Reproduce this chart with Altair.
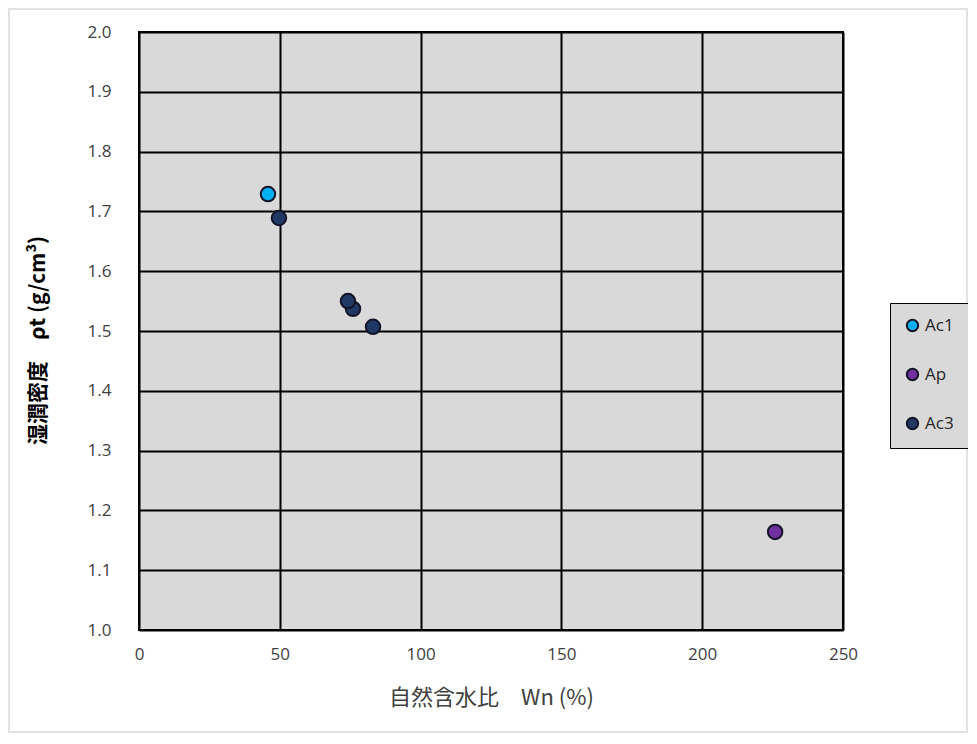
import altair as alt
import pandas as pd

series = ["Ac1", "Ac3", "Ac3", "Ac3", "Ac3", "Ap"]
wn = [45.8, 49.7, 76.0, 74.2, 83.1, 225.9]
rho = [1.729, 1.689, 1.537, 1.550, 1.507, 1.164]

legend_order = ["Ac1", "Ap", "Ac3"]
colors = ["#00b0f0", "#7030a0", "#1f3864"]

x_ticks = [0, 50, 100, 150, 200, 250]
y_ticks = [1.0, 1.1, 1.2, 1.3, 1.4, 1.5, 1.6, 1.7, 1.8, 1.9, 2.0]

df = pd.DataFrame({"series": series, "wn": wn, "rho": rho, "order": list(range(len(wn)))})

W, H = 704, 598
PL, PT, PR, PB = 131, 24, 125, 104

frame = alt.Chart(pd.DataFrame({"k": [0]})).mark_rect(
    fill="transparent", stroke="#d9d9d9", strokeWidth=1.5
).encode(
    x=alt.value(-PL + 1), x2=alt.value(W + PR - 1),
    y=alt.value(-PT + 1), y2=alt.value(H + PB - 2),
)

points = alt.Chart(df).mark_point(
    filled=True, size=210, stroke="#141428", strokeWidth=2, opacity=1
).encode(
    x=alt.X("wn:Q", scale=alt.Scale(domain=[0, 250], nice=False),
            axis=alt.Axis(values=x_ticks, title="自然含水比\u3000Wn (%)",
                          titleY=67, titleBaseline="middle", labelPadding=16,
                          labelFlush=False)),
    y=alt.Y("rho:Q", scale=alt.Scale(domain=[1.0, 2.0], nice=False),
            axis=alt.Axis(values=y_ticks, format=".1f", title="湿潤密度\u3000ρt (g/cm³)",
                          titleX=-101, titleY=308, titleAngle=-90, titleFontSize=21,
                          titleAlign="center", titleBaseline="middle", labelPadding=28,
                          labelFlush=False,
                          titleFontWeight="bold", titleColor="#000000")),
    fill=alt.Fill("series:N", scale=alt.Scale(domain=legend_order, range=colors),
                  legend=alt.Legend(
                      title=None, orient="none", legendX=751, legendY=271,
                      padding=14, rowPadding=28, symbolSize=130, symbolType="circle",
                      labelFontSize=17, labelFont="Open Sans", labelColor="#262626",
                      labelOffset=4, strokeColor="#000000", fillColor="#d9d9d9",
                      symbolStrokeWidth=2, symbolStrokeColor="#141428")),
    order=alt.Order("order:Q"),
)

chart = alt.layer(frame, points).properties(
    width=W, height=H,
    autosize=alt.AutoSizeParams(type="none"),
    padding={"left": PL, "top": PT, "right": PR, "bottom": PB},
).configure_view(
    fill="#d9d9d9", stroke="#000000", strokeWidth=2
).configure_axis(
    grid=True, gridColor="#000000", gridWidth=2, gridOpacity=1,
    domain=False, ticks=False,
    labelFont="Open Sans", labelFontSize=17, labelColor="#404040",
    titleFont="Noto Sans CJK JP", titleFontSize=22, titleFontWeight="normal",
    titleColor="#404040",
)

chart.save("out.html", embed_options={"renderer": "svg", "actions": False})
